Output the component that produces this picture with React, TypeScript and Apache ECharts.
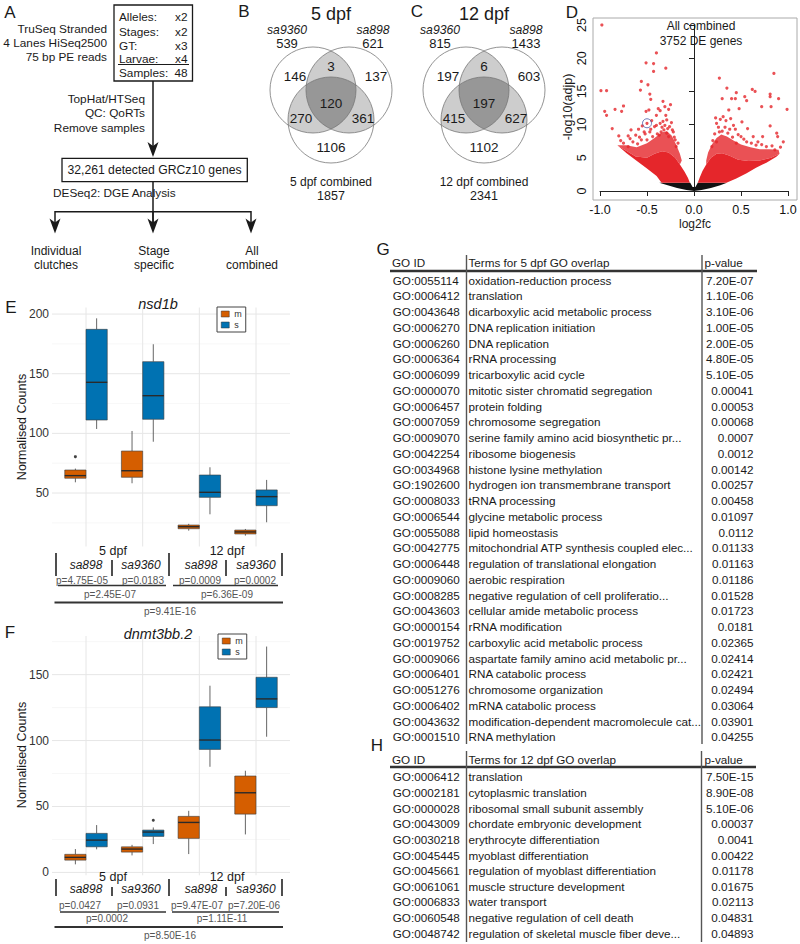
import React, { useEffect, useRef } from "react";
import * as echarts from "echarts";

const FONT = '"Liberation Sans", Arial, Helvetica, sans-serif';
const INK = "#1a1a1a";
const ORANGE = "#D55E00";
const BLUE = "#0072B2";
const RED = "#E5262B";

/* ---------- A: pipeline ---------- */
const seqLines = ["TruSeq Stranded", "4 Lanes HiSeq2500", "75 bp PE reads"];
const designKeys = ["Alleles:", "Stages:", "GT:", "Larvae:", "Samples:"];
const designVals = ["x2", "x2", "x3", "x4", "48"];
const qcLines = ["TopHat/HTSeq", "QC: QoRTs", "Remove samples"];
const geneBoxLabel = "32,261 detected GRCz10 genes";
const dgeLabel = "DESeq2: DGE Analysis";
const outcomeTop = ["Individual", "Stage", "All"];
const outcomeBottom = ["clutches", "specific", "combined"];

/* ---------- B, C: Venn ---------- */
const vennTitles = ["5 dpf", "12 dpf"];
const vennSetNames = ["sa9360", "sa898"];
const vennTotals5 = [539, 621];
const vennTotals12 = [815, 1433];
// leftOnly, left&right, rightOnly, all three, left&bottom, right&bottom, bottomOnly
const vennRegions5 = [146, 3, 137, 120, 270, 361, 1106];
const vennRegions12 = [197, 6, 603, 197, 415, 627, 1102];
const vennCombinedNames = ["5 dpf combined", "12 dpf combined"];
const vennCombinedTotals = [1857, 2341];

/* ---------- D: volcano ---------- */
const volcanoXTicks = [-1, 1, 0.5];
const volcanoYTicks = [0, 25, 5];
const volcanoNotSig = [
  [-0.37, 1.25], [-0.04, 1.25], [-0.015, 0.6], [0.015, 0.6], [0.04, 1.25], [0.35, 1.25],
  [0.28, 0.85], [0.18, 0.45], [0.08, 0.15], [0, 0], [-0.08, 0.15], [-0.18, 0.45], [-0.28, 0.85],
];
const volcanoCoreLeft = [
  [-0.044, 1.25], [-0.345, 1.25], [-0.398, 2.26], [-0.504, 3.41], [-0.611, 4.57], [-0.717, 5.67],
  [-0.815, 6.9], [-0.74, 6.2], [-0.62, 5.2], [-0.5, 5.0], [-0.42, 5.6], [-0.34, 6.0], [-0.27, 5.8],
  [-0.2, 5.0], [-0.15, 4.0], [-0.1, 2.9], [-0.065, 2.0],
];
const volcanoFringeLeft = [
  [-0.815, 6.9], [-0.72, 6.9], [-0.61, 6.6], [-0.5, 7.2], [-0.42, 8.0], [-0.345, 8.8], [-0.29, 9.0],
  [-0.24, 8.4], [-0.19, 7.0], [-0.15, 5.6], [-0.13, 4.6], [-0.15, 4.0], [-0.2, 5.0], [-0.27, 5.8],
  [-0.34, 6.0], [-0.42, 5.6], [-0.5, 5.0], [-0.62, 5.2], [-0.74, 6.2],
];
const volcanoCoreRight = [
  [0.04, 1.25], [0.345, 1.25], [0.45, 1.9], [0.56, 2.66], [0.66, 3.5], [0.77, 4.27], [0.876, 5.17],
  [0.91, 5.6], [0.82, 5.0], [0.7, 4.6], [0.58, 4.5], [0.47, 4.7], [0.38, 5.3], [0.3, 5.7], [0.24, 5.6],
  [0.18, 5.0], [0.13, 4.0], [0.09, 3.0], [0.06, 2.0],
];
const volcanoFringeRight = [
  [0.91, 5.6], [0.9, 6.2], [0.8, 6.3], [0.7, 6.3], [0.6, 6.6], [0.5, 7.0], [0.42, 7.6], [0.35, 8.2],
  [0.29, 8.5], [0.24, 8.0], [0.19, 7.0], [0.15, 5.8], [0.13, 4.6], [0.13, 4.0], [0.18, 5.0], [0.24, 5.6],
  [0.3, 5.7], [0.38, 5.3], [0.47, 4.7], [0.58, 4.5], [0.7, 4.6], [0.82, 5.0],
];
const volcanoPoints = [
  [-0.98, 25.0], [-0.99, 15.1], [-0.93, 15.1], [-0.95, 12.0], [-0.93, 11.4], [-0.84, 12.3], [-0.75, 12.8],
  [-0.77, 12.0], [-0.87, 9.4], [-0.8, 8.3], [-0.7, 8.3], [-0.67, 9.2], [-0.62, 8.4], [-0.59, 9.3],
  [-0.56, 16.5], [-0.57, 15.2], [-0.51, 19.3], [-0.49, 16.0], [-0.47, 14.6], [-0.46, 13.8], [-0.43, 19.2],
  [-0.4, 20.8], [-0.43, 18.0], [-0.3, 18.5], [-0.51, 12.0], [-0.48, 12.2], [-0.53, 8.9], [-0.38, 12.4],
  [-0.33, 13.5], [-0.25, 13.0], [-0.3, 11.4], [-0.29, 10.7], [-0.4, 11.4], [-0.36, 10.2], [-0.42, 9.7],
  [-0.47, 8.9], [-0.56, 7.7], [-0.65, 7.4], [-0.75, 7.2], [-0.35, 8.9], [-0.26, 9.7], [-0.22, 8.9],
  [-0.32, 9.2], [-0.37, 8.4], [-0.44, 8.2], [-0.5, 7.7], [-0.6, 7.1], [-0.7, 6.7], [-0.27, 8.2],
  [-0.2, 7.7], [-0.19, 6.7], [-0.5, 10.2], [-0.55, 9.8], [-0.45, 10.6], [-0.31, 9.9], [-0.24, 10.3],
  [-0.27, 12.3], [-0.31, 12.7], [-0.36, 12.1],
  [-0.78, 7.6], [-0.68, 7.9], [-0.58, 8.1], [-0.52, 8.6], [-0.46, 9.3], [-0.4, 9.9], [-0.33, 10.5],
  [-0.28, 9.4], [-0.23, 9.2], [-0.21, 8.1], [-0.17, 7.2], [-0.39, 8.6], [-0.34, 9.6], [-0.29, 8.7],
  [0.27, 17.0], [0.35, 15.5], [0.3, 13.9], [0.4, 13.9], [0.44, 13.9], [0.45, 14.8], [0.54, 14.2],
  [0.56, 13.6], [0.48, 12.4], [0.65, 15.0], [0.62, 15.3], [0.85, 17.7], [0.81, 14.6], [0.81, 14.2],
  [0.82, 12.7], [0.9, 13.9], [0.99, 12.3], [0.72, 12.7], [0.23, 11.0], [0.31, 11.2], [0.37, 12.2],
  [0.24, 10.2], [0.34, 10.6], [0.42, 9.9], [0.44, 9.3], [0.51, 10.4], [0.57, 9.4], [0.81, 9.8],
  [0.88, 8.7], [0.63, 8.2], [0.73, 8.2], [0.89, 8.2], [0.68, 7.4], [0.95, 7.4], [0.5, 8.2], [0.27, 8.9],
  [0.36, 8.7], [0.56, 7.4], [0.77, 6.7], [0.86, 6.2], [0.45, 7.2], [0.24, 7.4], [0.19, 6.7],
  [0.28, 10.8], [0.33, 9.6], [0.39, 10.9], [0.26, 9.6],
  [0.22, 8.6], [0.3, 9.0], [0.38, 9.3], [0.47, 8.5], [0.53, 7.8], [0.61, 7.2], [0.66, 6.9], [0.72, 7.0],
  [0.83, 6.8], [0.92, 6.6], [0.2, 7.6], [0.41, 8.1],
];
const highlightedGene = [[-0.5, 10.2]];

/* ---------- E, F: boxplots ---------- */
const stageLabels = ["5 dpf", "12 dpf"];
const alleleLabels = ["sa898", "sa9360", "sa898", "sa9360"];
// [group, lowerWhisker, Q1, median, Q3, upperWhisker]
const nsd1bM = [[1, 59, 62.4, 64.6, 69.3, 70.5], [2, 58.2, 63.2, 68.7, 85.2, 102], [3, 18.5, 20.1, 21.8, 23.2, 24.2], [4, 14.3, 15.7, 17.4, 19, 19.9]];
const nsd1bS = [[1, 103.7, 111.2, 142.8, 187.2, 196.4], [2, 93, 111.8, 131.6, 160.1, 174.7], [3, 32.2, 46.4, 50.6, 65.1, 71.6], [4, 25.5, 39.4, 47, 52.6, 61]];
const nsd1bOutM = [[1, 80.5]];
const nsd1bOutS: number[][] = [];
const nsd1bAlleleP = ["p=4.75E-05", "p=0.0183", "p=0.0009", "p=0.0002"];
const nsd1bStageP = ["p=2.45E-07", "p=6.36E-09"];
const nsd1bAllP = "p=9.41E-16";

const dnmtM = [[1, 6.1, 9.3, 11.4, 13.7, 17.7], [2, 12.9, 15.4, 17.7, 19.4, 20.9], [3, 13.9, 25.8, 37.9, 42.5, 46.7], [4, 28.8, 44.2, 60.4, 73.1, 77.1]];
const dnmtS = [[1, 17.5, 19.4, 24.5, 29.6, 35.9], [2, 21.5, 27.3, 30.6, 32.1, 34.1], [3, 80.1, 93.3, 100.4, 125.6, 141.6], [4, 102.9, 125, 131.6, 148, 171.3]];
const dnmtOutM: number[][] = [];
const dnmtOutS = [[2, 39.5]];
const dnmtAlleleP = ["p=0.0427", "p=0.0931", "p=9.47E-07", "p=7.20E-06"];
const dnmtStageP = ["p=0.0002", "p=1.11E-11"];
const dnmtAllP = "p=8.50E-16";

const eTicks = [50, 100, 150, 200];
const eMinor = [25, 75, 125, 175];
const fTicks = [0, 50, 100, 150];
const fMinor = [25, 75, 125, 175];
const groupsX = [1, 2, 3, 4];

/* ---------- G, H: GO tables ---------- */
const go5Ids = ["GO:0055114", "GO:0006412", "GO:0043648", "GO:0006270", "GO:0006260", "GO:0006364", "GO:0006099", "GO:0000070", "GO:0006457", "GO:0007059", "GO:0009070", "GO:0042254", "GO:0034968", "GO:1902600", "GO:0008033", "GO:0006544", "GO:0055088", "GO:0042775", "GO:0006448", "GO:0009060", "GO:0008285", "GO:0043603", "GO:0000154", "GO:0019752", "GO:0009066", "GO:0006401", "GO:0051276", "GO:0006402", "GO:0043632", "GO:0001510"];
const go5Terms = ["oxidation-reduction process", "translation", "dicarboxylic acid metabolic process", "DNA replication initiation", "DNA replication", "rRNA processing", "tricarboxylic acid cycle", "mitotic sister chromatid segregation", "protein folding", "chromosome segregation", "serine family amino acid biosynthetic pr...", "ribosome biogenesis", "histone lysine methylation", "hydrogen ion transmembrane transport", "tRNA processing", "glycine metabolic process", "lipid homeostasis", "mitochondrial ATP synthesis coupled elec...", "regulation of translational elongation", "aerobic respiration", "negative regulation of cell proliferatio...", "cellular amide metabolic process", "rRNA modification", "carboxylic acid metabolic process", "aspartate family amino acid metabolic pr...", "RNA catabolic process", "chromosome organization", "mRNA catabolic process", "modification-dependent macromolecule cat...", "RNA methylation"];
const go5P = ["7.20E-07", "1.10E-06", "3.10E-06", "1.00E-05", "2.00E-05", "4.80E-05", "5.10E-05", "0.00041", "0.00053", "0.00068", "0.0007", "0.0012", "0.00142", "0.00257", "0.00458", "0.01097", "0.0112", "0.01133", "0.01163", "0.01186", "0.01528", "0.01723", "0.0181", "0.02365", "0.02414", "0.02421", "0.02494", "0.03064", "0.03901", "0.04255"];
const go12Ids = ["GO:0006412", "GO:0002181", "GO:0000028", "GO:0043009", "GO:0030218", "GO:0045445", "GO:0045661", "GO:0061061", "GO:0006833", "GO:0060548", "GO:0048742"];
const go12Terms = ["translation", "cytoplasmic translation", "ribosomal small subunit assembly", "chordate embryonic development", "erythrocyte differentiation", "myoblast differentiation", "regulation of myoblast differentiation", "muscle structure development", "water transport", "negative regulation of cell death", "regulation of skeletal muscle fiber deve..."];
const go12P = ["7.50E-15", "8.90E-08", "5.10E-06", "0.00037", "0.0041", "0.00422", "0.01178", "0.01675", "0.02113", "0.04831", "0.04893"];
const tableHeaders5 = ["GO ID", "Terms for 5 dpf GO overlap", "p-value"];
const tableHeaders12 = ["GO ID", "Terms for 12 dpf GO overlap", "p-value"];

/* ---------- helpers ---------- */
function T(x: number, y: number, text: any, o: any = {}) {
  const a = o.align || "center";
  return {
    type: "text", x, y, rotation: o.rot || 0, silent: true, z: 10,
    style: {
      text: String(text), x: 0, y: 0, fill: o.color || INK,
      fontSize: o.size || 12, fontFamily: FONT,
      fontStyle: o.italic ? "italic" : "normal", fontWeight: "normal",
      textAlign: a, textVerticalAlign: "middle", align: a, verticalAlign: "middle",
    },
  };
}
function L(x1: number, y1: number, x2: number, y2: number, w = 1.2, c = INK) {
  return { type: "line", silent: true, z: 10, shape: { x1, y1, x2, y2 }, style: { stroke: c, lineWidth: w } };
}
function RECT(x: number, y: number, w: number, h: number, stroke = INK, lw = 1.3) {
  return { type: "rect", silent: true, z: 10, shape: { x, y, width: w, height: h }, style: { stroke, lineWidth: lw, fill: "none" } };
}
function ARROW(x: number, tip: number) {
  return { type: "polygon", silent: true, z: 10, shape: { points: [[x, tip], [x - 5.5, tip - 15], [x, tip - 11], [x + 5.5, tip - 15]] }, style: { fill: INK } };
}

const VENN_R = 43;
const vennCx = [331, 484];
function vennCircles(cx: number) { return [[cx - 18, 90], [cx + 18, 90], [cx, 120]]; }
function circleIntersect(c1: number[], c2: number[], r: number) {
  const dx = c2[0] - c1[0], dy = c2[1] - c1[1];
  const d = Math.hypot(dx, dy);
  const h = Math.sqrt(r * r - (d / 2) * (d / 2));
  const mx = (c1[0] + c2[0]) / 2, my = (c1[1] + c2[1]) / 2;
  return [[mx - (h * dy) / d, my + (h * dx) / d], [mx + (h * dy) / d, my - (h * dx) / d]];
}
const fx = (n: number) => n.toFixed(2);
function lensPath(c1: number[], c2: number[], r: number) {
  const [p, q] = circleIntersect(c1, c2, r);
  return `M${fx(p[0])} ${fx(p[1])} A${r} ${r} 0 0 1 ${fx(q[0])} ${fx(q[1])} A${r} ${r} 0 0 1 ${fx(p[0])} ${fx(p[1])} Z`;
}
function triplePath(A: number[], B: number[], C: number[], r: number) {
  const inside = (p: number[], c: number[]) => Math.hypot(p[0] - c[0], p[1] - c[1]) < r;
  const pick = (c1: number[], c2: number[], c3: number[]) => circleIntersect(c1, c2, r).find((p) => inside(p, c3)) as number[];
  const pts = [pick(A, B, C), pick(A, C, B), pick(B, C, A)];
  const gx = (pts[0][0] + pts[1][0] + pts[2][0]) / 3, gy = (pts[0][1] + pts[1][1] + pts[2][1]) / 3;
  pts.sort((a, b) => Math.atan2(a[1] - gy, a[0] - gx) - Math.atan2(b[1] - gy, b[0] - gx));
  const arc = (p: number[]) => `A${r} ${r} 0 0 1 ${fx(p[0])} ${fx(p[1])}`;
  return `M${fx(pts[0][0])} ${fx(pts[0][1])} ${arc(pts[1])} ${arc(pts[2])} ${arc(pts[0])} Z`;
}
function registerVennShapes() {
  vennCx.forEach((cx, i) => {
    const [A, B, C] = vennCircles(cx);
    echarts.graphic.registerShape(`vennAB${i}`, echarts.graphic.extendPath(lensPath(A, B, VENN_R), {}));
    echarts.graphic.registerShape(`vennAC${i}`, echarts.graphic.extendPath(lensPath(A, C, VENN_R), {}));
    echarts.graphic.registerShape(`vennBC${i}`, echarts.graphic.extendPath(lensPath(B, C, VENN_R), {}));
    echarts.graphic.registerShape(`vennABC${i}`, echarts.graphic.extendPath(triplePath(A, B, C, VENN_R), {}));
  });
}

/* ---------- series renderers ---------- */
const HALF = 0.1875;
function polyRenderer(poly: number[][], fill: string, opacity = 1) {
  return (_p: any, api: any) => ({
    type: "polygon",
    shape: { points: poly.map((pt) => api.coord(pt)) },
    style: { fill, opacity },
  });
}
function boxRenderer(offset: number, fill: string) {
  return (_p: any, api: any) => {
    const g = api.value(0), lo = api.value(1), q1 = api.value(2), md = api.value(3), q3 = api.value(4), hi = api.value(5);
    const cx = g + offset;
    const c = (v: number) => api.coord([cx, v]);
    const tl = api.coord([cx - HALF, q3]);
    const br = api.coord([cx + HALF, q1]);
    const ml = api.coord([cx - HALF, md]);
    const mr = api.coord([cx + HALF, md]);
    return {
      type: "group",
      children: [
        { type: "line", shape: { x1: c(hi)[0], y1: c(hi)[1], x2: c(q3)[0], y2: c(q3)[1] }, style: { stroke: "#555", lineWidth: 0.9 } },
        { type: "line", shape: { x1: c(lo)[0], y1: c(lo)[1], x2: c(q1)[0], y2: c(q1)[1] }, style: { stroke: "#555", lineWidth: 0.9 } },
        { type: "rect", shape: { x: tl[0], y: tl[1], width: br[0] - tl[0], height: br[1] - tl[1] }, style: { fill, stroke: "#3a3a3a", lineWidth: 0.6 } },
        { type: "line", shape: { x1: ml[0], y1: ml[1], x2: mr[0], y2: mr[1] }, style: { stroke: "#2a2a2a", lineWidth: 1.4 } },
      ],
    };
  };
}
function gridRenderer(yMin: number, yMax: number, majors: number[], minors: number[]) {
  return (_p: any, api: any) => {
    const children: any[] = [];
    const hl = (v: number, color: string, w: number) => {
      const a = api.coord([0.4, v]), b = api.coord([4.6, v]);
      children.push({ type: "line", shape: { x1: a[0], y1: a[1], x2: b[0], y2: b[1] }, style: { stroke: color, lineWidth: w } });
    };
    minors.forEach((v) => hl(v, "#f1f1f1", 0.6));
    majors.forEach((v) => hl(v, "#e6e6e6", 1));
    groupsX.forEach((g) => {
      const a = api.coord([g, yMin]), b = api.coord([g, yMax]);
      children.push({ type: "line", shape: { x1: a[0], y1: a[1], x2: b[0], y2: b[1] }, style: { stroke: "#e6e6e6", lineWidth: 1 } });
    });
    return { type: "group", children };
  };
}

function boxPanelSeries(idx: number, M: number[][], S: number[][], outM: number[][], outS: number[][], yMin: number, yMax: number, majors: number[], minors: number[]) {
  return [
    { type: "custom", xAxisIndex: idx, yAxisIndex: idx, silent: true, z: 1, data: [[1, majors[0]]], renderItem: gridRenderer(yMin, yMax, majors, minors) },
    { type: "custom", name: "m", xAxisIndex: idx, yAxisIndex: idx, silent: true, z: 2, itemStyle: { color: ORANGE }, data: M, renderItem: boxRenderer(-HALF, ORANGE) },
    { type: "custom", name: "s", xAxisIndex: idx, yAxisIndex: idx, silent: true, z: 2, itemStyle: { color: BLUE }, data: S, renderItem: boxRenderer(HALF, BLUE) },
    {
      type: "scatter", xAxisIndex: idx, yAxisIndex: idx, silent: true, z: 3, symbolSize: 3,
      itemStyle: { color: "#111" },
      data: [...outM.map(([g, v]) => [g - HALF, v]), ...outS.map(([g, v]) => [g + HALF, v])],
    },
  ];
}

function annotation(cfg: any, alleleP: string[], stageP: string[], allP: string) {
  const els: any[] = [];
  const ax = [86, 141, 201, 256];
  els.push(T(113, cfg.stage, stageLabels[0], { size: 12.5 }));
  els.push(T(227, cfg.stage, stageLabels[1], { size: 12.5 }));
  [56, 169, 282].forEach((x) => els.push(L(x, cfg.barTop, x, cfg.barBot, 1.6, "#222")));
  [112, 226].forEach((x) => els.push(L(x, cfg.midTop, x, cfg.barBot, 1.6, "#222")));
  alleleLabels.forEach((a, i) => els.push(T(ax[i], cfg.allele, a, { size: 12, italic: true })));
  alleleP.forEach((p, i) => els.push(T(cfg.pX[i], cfg.p1, p, { size: 10, color: "#555" })));
  els.push(L(cfg.seg[0][0], cfg.l1, cfg.seg[0][1], cfg.l1, 1.5, "#333"));
  els.push(L(cfg.seg[1][0], cfg.l1, cfg.seg[1][1], cfg.l1, 1.5, "#333"));
  stageP.forEach((p, i) => els.push(T(cfg.sX[i], cfg.p2, p, { size: 10, color: "#555" })));
  els.push(L(54.5, cfg.l2, 283, cfg.l2, 2, "#333"));
  els.push(T(170, cfg.p3, allP, { size: 10, color: "#555" }));
  return els;
}

function buildGraphic() {
  const els: any[] = [];
  /* Panel labels */
  els.push(T(10, 12.5, "A", { size: 17 }));
  els.push(T(244, 11, "B", { size: 17 }));
  els.push(T(417, 11, "C", { size: 17 }));
  els.push(T(572, 12, "D", { size: 17 }));
  els.push(T(11, 307, "E", { size: 17 }));
  els.push(T(10, 632, "F", { size: 17 }));
  els.push(T(383, 249, "G", { size: 17 }));
  els.push(T(377, 745, "H", { size: 17 }));

  /* A */
  [28.5, 42.5, 56.5].forEach((y, i) => els.push(T(107, y, seqLines[i], { size: 11.8, align: "right" })));
  els.push(RECT(114, 5, 78.5, 76));
  [16.7, 31.7, 45.7, 59.3, 73.3].forEach((y, i) => {
    els.push(T(119, y, designKeys[i], { size: 11.8, align: "left" }));
    els.push(T(187.5, y, designVals[i], { size: 11.8, align: "right" }));
  });
  els.push(L(118, 64.5, 189, 64.5, 1));
  els.push(L(153, 81, 153, 146, 1.5));
  els.push(ARROW(153, 157));
  [99.3, 113.3, 127.7].forEach((y, i) => els.push(T(145, y, qcLines[i], { size: 11.8, align: "right" })));
  els.push(RECT(62, 158.3, 185.3, 23.4));
  els.push(T(154.5, 170, geneBoxLabel, { size: 12.2 }));
  els.push(T(53, 193.3, dgeLabel, { size: 11.8, align: "left" }));
  els.push(L(153, 181.7, 153, 224, 1.5));
  els.push(L(55, 211.7, 251, 211.7, 1.5));
  [55, 153, 251].forEach((x) => {
    els.push(L(x, 211, x, 224, 1.5));
    els.push(ARROW(x, 233.5));
  });
  [56, 154, 252].forEach((x, i) => {
    els.push(T(x, 251, outcomeTop[i], { size: 12 }));
    els.push(T(x, 265, outcomeBottom[i], { size: 12 }));
  });

  /* B, C Venn */
  const totals = [vennTotals5, vennTotals12];
  const regions = [vennRegions5, vennRegions12];
  vennCx.forEach((cx, i) => {
    [`vennAB${i}`, `vennAC${i}`, `vennBC${i}`].forEach((n) => els.push({ type: n, silent: true, z: 5, style: { fill: "#cdcdcd" } }));
    els.push({ type: `vennABC${i}`, silent: true, z: 6, style: { fill: "#979797" } });
    vennCircles(cx).forEach((c) => els.push({ type: "circle", silent: true, z: 7, shape: { cx: c[0], cy: c[1], r: VENN_R }, style: { fill: "none", stroke: "#777", lineWidth: 0.8 } }));
    els.push(T(cx, 13.5, vennTitles[i], { size: 18 }));
    els.push(T(cx - 44, 30, vennSetNames[0], { size: 12.2, italic: true }));
    els.push(T(cx + 42, 30, vennSetNames[1], { size: 12.2, italic: true }));
    els.push(T(cx - 44, 43.5, totals[i][0], { size: 13 }));
    els.push(T(cx + 42, 43.5, totals[i][1], { size: 13 }));
    const pos = [[-36, 76], [0, 66.5], [45, 76], [0, 103], [-30, 118], [32, 118], [0, 147]];
    regions[i].forEach((v, k) => els.push(T(cx + pos[k][0], pos[k][1], v, { size: 13.5 })));
    els.push(T(cx, 182, vennCombinedNames[i], { size: 12 }));
    els.push(T(cx, 195.5, vennCombinedTotals[i], { size: 12.5 }));
  });

  /* D */
  els.push({ type: "rect", silent: true, z: 1, shape: { x: 593, y: 18, width: 204, height: 182 }, style: { fill: "none", stroke: "#aaa", lineWidth: 1 } });
  els.push(T(701, 26, "All combined", { size: 12 }));
  els.push(T(701, 41, "3752 DE genes", { size: 12 }));
  els.push(T(695, 224, "log2fc", { size: 12 }));
  els.push(T(568, 107, "-log10(adjp)", { size: 12.5, rot: Math.PI / 2 }));

  /* E, F titles & axis titles */
  els.push(T(158, 304, "nsd1b", { size: 14.5, italic: true }));
  els.push(T(158, 634, "dnmt3bb.2", { size: 14.5, italic: true }));
  els.push(T(22, 427, "Normalised Counts", { size: 12.5, rot: Math.PI / 2 }));
  els.push(T(22, 755, "Normalised Counts", { size: 12.5, rot: Math.PI / 2 }));

  els.push(...annotation({ stage: 551, barTop: 553, midTop: 560, barBot: 576, allele: 565, pX: [82, 143, 200, 255], p1: 580, l1: 585.5, seg: [[58, 166], [173, 278]], sX: [110, 227], p2: 594, l2: 602.5, p3: 611 }, nsd1bAlleleP, nsd1bStageP, nsd1bAllP));
  els.push(...annotation({ stage: 877, barTop: 879, midTop: 887, barBot: 896, allele: 889, pX: [80, 138, 197, 254], p1: 905, l1: 912, seg: [[60, 166], [172, 279]], sX: [107, 222], p2: 918.5, l2: 927, p3: 935 }, dnmtAlleleP, dnmtStageP, dnmtAllP));

  /* G table */
  const TS = 11.7;
  els.push(T(392, 262, tableHeaders5[0], { size: TS, align: "left" }));
  els.push(T(468.5, 262, tableHeaders5[1], { size: TS, align: "left" }));
  els.push(T(704.5, 262, tableHeaders5[2], { size: TS, align: "left" }));
  els.push(L(390, 271, 757, 271, 2.5, "#333"));
  els.push(L(466.5, 255, 466.5, 744, 1.4, "#555"));
  els.push(L(702, 255, 702, 744, 1.4, "#555"));
  go5Ids.forEach((id, i) => {
    const y = 280 + i * 15.75;
    els.push(T(392.7, y, id, { size: TS, align: "left" }));
    els.push(T(468.5, y, go5Terms[i], { size: TS, align: "left" }));
    els.push(T(753.5, y, go5P[i], { size: TS, align: "right" }));
  });
  /* H table */
  els.push(T(392, 759, tableHeaders12[0], { size: TS, align: "left" }));
  els.push(T(468.5, 759, tableHeaders12[1], { size: TS, align: "left" }));
  els.push(T(704.5, 759, tableHeaders12[2], { size: TS, align: "left" }));
  els.push(L(390, 767, 756, 767, 2.5, "#333"));
  els.push(L(466.5, 751, 466.5, 942, 1.4, "#555"));
  els.push(L(701.5, 751, 701.5, 942, 1.4, "#555"));
  go12Ids.forEach((id, i) => {
    const y = 776.7 + i * 15.66;
    els.push(T(392.7, y, id, { size: TS, align: "left" }));
    els.push(T(468.5, y, go12Terms[i], { size: TS, align: "left" }));
    els.push(T(753.5, y, go12P[i], { size: TS, align: "right" }));
  });
  return els;
}

function buildOption() {
  const axisText = { fontFamily: FONT, fontSize: 12, color: "#333" };
  return {
    animation: false,
    backgroundColor: "#fff",
    textStyle: { fontFamily: FONT },
    grid: [
      { left: 600, top: 25, width: 188, height: 166 },
      { left: 52, top: 307.5, width: 238, height: 239 },
      { left: 52, top: 636, width: 238, height: 239.3 },
    ],
    xAxis: [
      {
        gridIndex: 0, type: "value", min: volcanoXTicks[0], max: volcanoXTicks[1], interval: volcanoXTicks[2], offset: 9,
        axisLine: { lineStyle: { color: "#222", width: 1 } },
        axisTick: { length: 5, lineStyle: { color: "#222" } },
        axisLabel: { formatter: (v: number) => v.toFixed(1), fontFamily: FONT, fontSize: 12.5, color: "#111", margin: 3 },
        splitLine: { show: false },
      },
      { gridIndex: 1, type: "value", min: 0.4, max: 4.6, show: false },
      { gridIndex: 2, type: "value", min: 0.4, max: 4.6, show: false },
    ],
    yAxis: [
      {
        gridIndex: 0, type: "value", min: volcanoYTicks[0], max: volcanoYTicks[1], interval: volcanoYTicks[2], offset: 7,
        axisLine: { show: true, lineStyle: { color: "#222", width: 1 } },
        axisTick: { show: true, length: 5, lineStyle: { color: "#222" } },
        axisLabel: { rotate: 90, fontFamily: FONT, fontSize: 12.5, color: "#111", margin: 5 },
        splitLine: { show: false },
      },
      {
        gridIndex: 1, type: "value", min: 5.2, max: 205.5,
        axisLine: { show: false }, axisTick: { show: false }, splitLine: { show: false },
        axisLabel: { ...axisText, margin: 3, customValues: eTicks },
      },
      {
        gridIndex: 2, type: "value", min: -2.2, max: 179.3,
        axisLine: { show: false }, axisTick: { show: false }, splitLine: { show: false },
        axisLabel: { ...axisText, margin: 3, customValues: fTicks },
      },
    ],
    legend: [
      {
        left: 217, top: 307, orient: "vertical", icon: "rect", itemWidth: 8, itemHeight: 6, itemGap: 1,
        padding: [2, 4, 2, 4], borderColor: "#444", borderWidth: 1, backgroundColor: "#fff",
        textStyle: { fontSize: 9, color: "#333", fontFamily: FONT, lineHeight: 10 },
        itemStyle: { borderColor: "#333", borderWidth: 0.5 },
        data: ["m", "s"], selectedMode: false,
      },
      {
        left: 218, top: 634, orient: "vertical", icon: "rect", itemWidth: 8, itemHeight: 6, itemGap: 1,
        padding: [2, 4, 2, 4], borderColor: "#444", borderWidth: 1, backgroundColor: "#fff",
        textStyle: { fontSize: 9, color: "#333", fontFamily: FONT, lineHeight: 10 },
        itemStyle: { borderColor: "#333", borderWidth: 0.5 },
        data: ["m", "s"], selectedMode: false,
      },
    ],
    series: [
      { type: "custom", xAxisIndex: 0, yAxisIndex: 0, silent: true, z: 1, data: [[0, 0]], renderItem: polyRenderer(volcanoNotSig, "#111") },
      { type: "custom", xAxisIndex: 0, yAxisIndex: 0, silent: true, z: 1, data: [[0, 0]], renderItem: polyRenderer(volcanoCoreLeft, RED) },
      { type: "custom", xAxisIndex: 0, yAxisIndex: 0, silent: true, z: 1, data: [[0, 0]], renderItem: polyRenderer(volcanoCoreRight, RED) },
      { type: "custom", xAxisIndex: 0, yAxisIndex: 0, silent: true, z: 1, data: [[0, 0]], renderItem: polyRenderer(volcanoFringeLeft, RED, 0.8) },
      { type: "custom", xAxisIndex: 0, yAxisIndex: 0, silent: true, z: 1, data: [[0, 0]], renderItem: polyRenderer(volcanoFringeRight, RED, 0.8) },
      { type: "scatter", xAxisIndex: 0, yAxisIndex: 0, silent: true, z: 2, symbolSize: 3.2, itemStyle: { color: RED }, data: volcanoPoints },
      { type: "scatter", xAxisIndex: 0, yAxisIndex: 0, silent: true, z: 3, symbolSize: 9, itemStyle: { color: "rgba(0,0,0,0)", borderColor: "#4a5aa8", borderWidth: 1 }, data: highlightedGene },
      ...boxPanelSeries(1, nsd1bM, nsd1bS, nsd1bOutM, nsd1bOutS, 5.2, 205.5, eTicks, eMinor),
      ...boxPanelSeries(2, dnmtM, dnmtS, dnmtOutM, dnmtOutS, -2.2, 179.3, fTicks, fMinor),
    ],
    graphic: { elements: buildGraphic() },
  };
}

export default function App() {
  const ref = useRef<HTMLDivElement>(null);
  useEffect(() => {
    document.body.style.margin = "0";
    registerVennShapes();
    const chart = echarts.init(ref.current as HTMLDivElement, null, { renderer: "svg" });
    chart.setOption(buildOption() as any);
    return () => chart.dispose();
  }, []);
  return <div ref={ref} style={{ position: "absolute", left: 0, top: 0, width: 800, height: 944, background: "#fff" }} />;
}
